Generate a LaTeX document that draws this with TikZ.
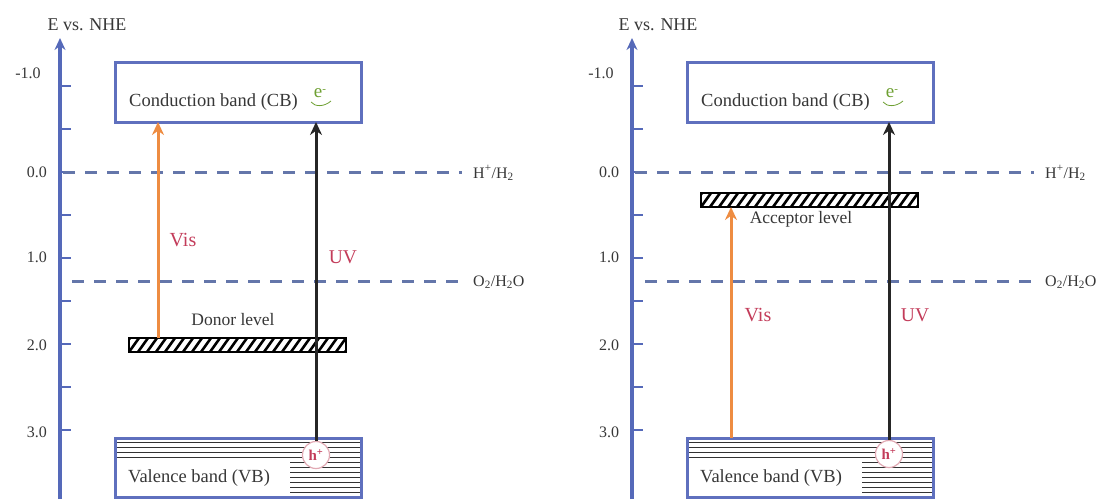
\documentclass[tikz,border=0pt]{standalone}
\usepackage{graphicx}
\usepackage{fontspec}
\setmainfont{Liberation Serif}
\usetikzlibrary{arrows.meta}
\definecolor{axisblue}{RGB}{85,105,185}
\definecolor{dashblue}{RGB}{100,118,170}
\definecolor{boxblue}{RGB}{95,112,190}
\definecolor{visorange}{RGB}{238,140,65}
\definecolor{labred}{RGB}{195,60,90}
\definecolor{txtgray}{RGB}{55,55,55}
\definecolor{egreen}{RGB}{110,160,50}
\definecolor{hpink}{RGB}{225,170,180}
\tikzset{
  axisline/.style={axisblue, line width=3.5pt, -{Stealth[length=12pt,width=11pt]}},
  tickmark/.style={axisblue, line width=2.5pt},
  ticklab/.style={text=txtgray, font=\fontsize{16}{16}\selectfont, inner sep=0pt},
  redoxline/.style={dashblue, line width=3pt, dash pattern=on 12pt off 10pt},
  redoxlab/.style={text=txtgray, font=\fontsize{16}{16}\selectfont, anchor=west, inner sep=0pt},
  bandbox/.style={draw=boxblue, line width=3pt, fill=white, outer sep=0pt, inner sep=0pt},
  bandlab/.style={text=txtgray, anchor=west, inner sep=0pt, font=\fontsize{18.5}{18.5}\selectfont},
  levelbar/.style={draw=black, line width=1.5pt, outer sep=0pt, inner sep=0pt, minimum width=217pt, minimum height=14pt},
  levellab/.style={text=txtgray, font=\fontsize{17.5}{17.5}\selectfont, inner sep=0pt},
  visarrow/.style={visorange, line width=3pt, -{Stealth[length=13pt,width=12pt]}},
  uvarrow/.style={black!85, line width=3pt, -{Stealth[length=13pt,width=12pt]}},
  lightlab/.style={text=labred, inner sep=0pt},
  holenode/.style={circle, draw=hpink, fill=white, line width=1.2pt, minimum size=27pt, inner sep=0pt, text=labred, font=\bfseries\fontsize{15}{15}\selectfont},
  elab/.style={text=egreen, font=\fontsize{19}{19}\selectfont, inner sep=0pt},
  vbline/.style={black!80, line width=1.4pt},
  hatchline/.style={black, line width=2.6pt},
  titlelab/.style={text=txtgray, font=\fontsize{18}{18}\selectfont, inner sep=0pt}
}
\begin{document}
\begin{tikzpicture}[x=1pt,y=-1pt]
\useasboundingbox (0,0) rectangle (1112,499);
% ================= LEFT PANEL =================
\coordinate (axL0) at (60,499);
\coordinate (axL1) at (60,38);
\draw[axisline] (axL0) -- (axL1);
\node[titlelab] (titL) at (87,25) {E vs. NHE};
\foreach \yy in {86,129,172,215,258,301,344,387,430} \draw[tickmark] (61,\yy) -- (71,\yy);
\node[ticklab] (tL1) at (28,73) {-1.0};
\node[ticklab] (tL2) at (37,172) {0.0};
\node[ticklab] (tL3) at (37,257) {1.0};
\node[ticklab] (tL4) at (37,345) {2.0};
\node[ticklab] (tL5) at (37,432) {3.0};
% redox levels
\node[redoxlab] (hhL) at (473,173) {H\textsuperscript{+}/H\textsubscript{2}};
\node[redoxlab] (ooL) at (473,282) {O\textsubscript{2}/H\textsubscript{2}O};
\coordinate (hhLs) at (63,172);
\coordinate (hhLe) at (462,172);
\coordinate (ooLs) at (72,281);
\coordinate (ooLe) at (462,281);
\draw[redoxline] (hhLs) -- (hhLe);
\draw[redoxline] (ooLs) -- (ooLe);
% conduction band
\node[bandbox, minimum width=246pt, minimum height=60pt] (cbL) at (238,92) {};
\node[bandlab] (cbtL) at (129,102) {Conduction band (CB)};
\node[elab] (eL) at (320,93) {e\raisebox{0.55ex}{\fontsize{11}{11}\selectfont -}};
\draw[egreen, line width=0.8pt] (311,102) .. controls (315,107) and (324,107) .. (331,101);
% valence band
\node[bandbox, minimum width=246pt, minimum height=59pt] (vbL) at (238,467.5) {};
\foreach \yy in {442.5,447.5,452.5,457.5} \draw[vbline] (116,\yy) -- (360,\yy);
\foreach \yy in {462.5,467.5,472.5,477.5,482.5,487.5,492.5} \draw[vbline] (290,\yy) -- (360,\yy);
\draw[draw=boxblue, line width=3pt] (vbL.south west) rectangle (vbL.north east);
\node[bandlab] (vbtL) at (128,478) {Valence band (VB)};
% donor level
\node[levelbar] (donorL) at (237.5,345) {};
\begin{scope}
\clip (donorL.south west) rectangle (donorL.north east);
\foreach \i in {-2,...,26} \draw[hatchline] (129+\i*9,352) -- ++(10,-14);
\end{scope}
\draw[black, line width=1.5pt] (donorL.south west) rectangle (donorL.north east);
\node[levellab] (donortL) at (233,320) {Donor level};
% transitions
\node[holenode] (hL) at (316,455) {h\textsuperscript{+}};
\coordinate (visL) at (158,300);
\draw[visarrow] (visL |- donorL.north) -- (visL |- cbL.south);
\draw[uvarrow] (hL.north) -- (hL.north |- cbL.south);
\node[lightlab, font=\fontsize{20}{20}\selectfont] (vislabL) at (183,240) {Vis};
\node[lightlab, font=\fontsize{19.5}{19.5}\selectfont] (uvlabL) at (343,257) {UV};
% ================= RIGHT PANEL =================
\coordinate (axR0) at (632,499);
\coordinate (axR1) at (632,38);
\draw[axisline] (axR0) -- (axR1);
\node[titlelab] (titR) at (658,25) {E vs. NHE};
\foreach \yy in {86,129,172,215,258,301,344,387,430} \draw[tickmark] (633,\yy) -- (643,\yy);
\node[ticklab] (tR1) at (601,73) {-1.0};
\node[ticklab] (tR2) at (609,172) {0.0};
\node[ticklab] (tR3) at (609,257) {1.0};
\node[ticklab] (tR4) at (609,345) {2.0};
\node[ticklab] (tR5) at (609,432) {3.0};
\node[redoxlab] (hhR) at (1045,173) {H\textsuperscript{+}/H\textsubscript{2}};
\node[redoxlab] (ooR) at (1045,282) {O\textsubscript{2}/H\textsubscript{2}O};
\coordinate (hhRs) at (635,172);
\coordinate (hhRe) at (1034,172);
\coordinate (ooRs) at (645,281);
\coordinate (ooRe) at (1034,281);
\draw[redoxline] (hhRs) -- (hhRe);
\draw[redoxline] (ooRs) -- (ooRe);
\node[bandbox, minimum width=246pt, minimum height=60pt] (cbR) at (810,92) {};
\node[bandlab] (cbtR) at (701,102) {Conduction band (CB)};
\node[elab] (eR) at (892,93) {e\raisebox{0.55ex}{\fontsize{11}{11}\selectfont -}};
\draw[egreen, line width=0.8pt] (883,102) .. controls (887,107) and (896,107) .. (903,101);
\node[bandbox, minimum width=246pt, minimum height=59pt] (vbR) at (810,467.5) {};
\foreach \yy in {442.5,447.5,452.5,457.5} \draw[vbline] (688,\yy) -- (932,\yy);
\foreach \yy in {462.5,467.5,472.5,477.5,482.5,487.5,492.5} \draw[vbline] (862,\yy) -- (932,\yy);
\draw[draw=boxblue, line width=3pt] (vbR.south west) rectangle (vbR.north east);
\node[bandlab] (vbtR) at (700,478) {Valence band (VB)};
\node[levelbar] (accR) at (809.5,200) {};
\begin{scope}
\clip (accR.south west) rectangle (accR.north east);
\foreach \i in {-2,...,26} \draw[hatchline] (701+\i*9,207) -- ++(10,-14);
\end{scope}
\draw[black, line width=1.5pt] (accR.south west) rectangle (accR.north east);
\node[levellab] (acctR) at (801,219) {Acceptor level};
\node[holenode] (hR) at (889,454) {h\textsuperscript{+}};
\coordinate (visR) at (731,300);
\draw[visarrow] (visR |- vbR.north) -- (visR |- accR.south);
\draw[uvarrow] (hR.north) -- (hR.north |- cbR.south);
\node[lightlab, font=\fontsize{20}{20}\selectfont] (vislabR) at (758,315) {Vis};
\node[lightlab, font=\fontsize{19.5}{19.5}\selectfont] (uvlabR) at (915,315) {UV};
\end{tikzpicture}
\end{document}
